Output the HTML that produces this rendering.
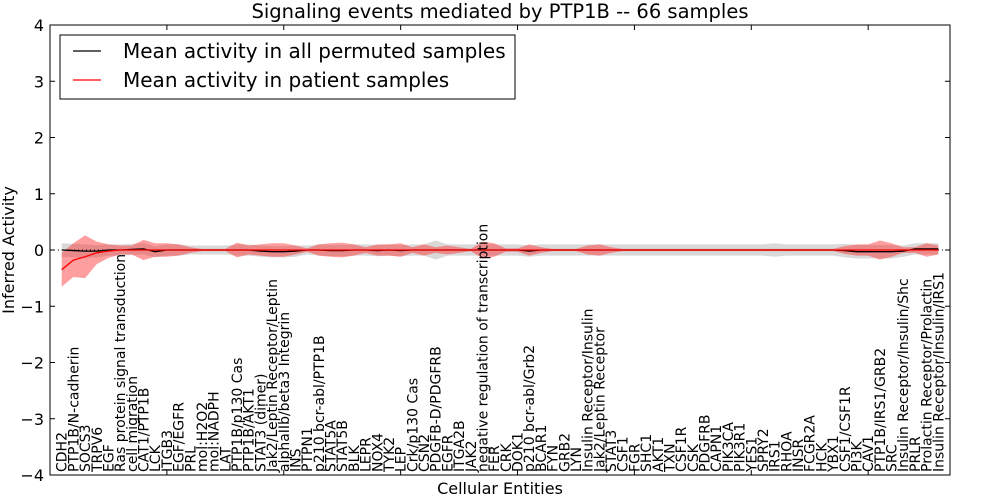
<!DOCTYPE html>
<html><head><meta charset="utf-8"><style>
body{margin:0;background:#fff;}
svg{display:block;font-family:"DejaVu Sans","Liberation Sans",sans-serif;}
</style></head><body>
<svg id="chart" width="1000" height="500"></svg>
<script>
const labels=["CDH2","PTP1B/N-cadherin","SOCS3","TRPV6","EGF","Ras protein signal transduction","cell migration","CAT1/PTP1B","LCK","ITGB3","EGF/EGFR","PRL","mol:H2O2","mol:NADPH","LAT","PTP1B/p130 Cas","PTP1B/AKT1","STAT3 (dimer)","Jak2/Leptin Receptor/Leptin","alphaIIb/beta3 Integrin","INS","PTPN1","p210 bcr-abl/PTP1B","STAT5A","STAT5B","BLK","LEPR","NOX4","TYK2","LEP","Crk/p130 Cas","CSN2","PDGFB-D/PDGFRB","EGFR","ITGA2B","JAK2","negative regulation of transcription","FER","CRK","DOK1","p210 bcr-abl/Grb2","BCAR1","FYN","GRB2","LYN","Insulin Receptor/Insulin","Jak2/Leptin Receptor","STAT3","CSF1","FGR","SHC1","AKT1","TXN","CSF1R","CSK","PDGFRB","CAPN1","PIK3CA","PIK3R1","YES1","SPRY2","IRS1","RHOA","INSR","FCGR2A","HCK","YBX1","CSF1/CSF1R","PI3K","CAV1","PTP1B/IRS1/GRB2","SRC","Insulin Receptor/Insulin/Shc","PRLR","Prolactin Receptor/Prolactin","Insulin Receptor/Insulin/IRS1"];
const patientMean=[-0.35,-0.18,-0.12,-0.05,-0.02,0,0,0,0,0,0,0,0,0,0,0,0,0,0,0,0,0,0,0,0,0,0,0,0,0,0,0,0,0,0,0,0,0,0,0,0,0,0,0,0,0,0,0,0,0,0,0,0,0,0,0,0,0,0,0,0,0,0,0,0,0,0,0,0,0,0,0,0,0,0,0];
const patientSpread=[0.3,0.3,0.38,0.2,0.12,0.08,0.08,0.18,0.12,0.12,0.1,0.05,0.02,0.02,0.02,0.13,0.08,0.1,0.12,0.12,0.08,0.03,0.1,0.12,0.13,0.1,0.05,0.1,0.1,0.12,0.05,0.1,0.05,0.08,0.05,0.02,0.15,0.12,0.03,0.03,0.1,0.05,0.02,0.02,0.02,0.08,0.1,0.05,0.02,0.02,0.02,0.02,0.02,0.02,0.02,0.02,0.02,0.02,0.02,0.02,0.02,0.02,0.02,0.02,0.02,0.02,0.02,0.07,0.1,0.1,0.17,0.12,0.05,0.05,0.12,0.08];
const permMean=[0,-0.01,-0.02,-0.02,0,0,0.01,0.02,-0.03,0,0,0,0,0,0,0,0,-0.02,-0.03,-0.03,-0.02,0,0,-0.01,-0.01,0,0,-0.01,0,-0.01,0,0,0,0,0,0,0,0,0,0,-0.02,0,0,0,0,0,0,0,0,0,0,0,0,0,0,0,0,0,0,0,0,0,0,0,0,0,0,-0.01,-0.03,-0.03,-0.03,-0.03,-0.02,0.02,0.02,0.02];
const permSpread=[0.12,0.12,0.12,0.11,0.1,0.1,0.1,0.1,0.1,0.1,0.1,0.08,0.08,0.08,0.08,0.1,0.1,0.1,0.1,0.1,0.1,0.08,0.1,0.1,0.1,0.1,0.1,0.1,0.1,0.1,0.1,0.1,0.17,0.1,0.1,0.1,0.1,0.1,0.1,0.1,0.1,0.1,0.1,0.1,0.1,0.1,0.1,0.1,0.1,0.1,0.1,0.1,0.1,0.1,0.1,0.1,0.1,0.1,0.1,0.1,0.1,0.12,0.1,0.1,0.1,0.1,0.1,0.12,0.12,0.12,0.12,0.12,0.1,0.1,0.1,0.1];
const yTicks=[-4,-3,-2,-1,0,1,2,3,4];
const xTicks=[0,10,20,30,40,50,60,70];

const L=50,R=950,T=25,B=475;
const xs=v=>L+(v/77)*(R-L);
const ys=v=>T+(4-v)/8*(B-T);
const NS="http://www.w3.org/2000/svg";
const svg=document.getElementById('chart');
function mk(tag,at,parent){const e=document.createElementNS(NS,tag);for(const k in at)e.setAttribute(k,at[k]);(parent||svg).appendChild(e);return e;}
function band(mean,spread,fill,name){
  let pts=mean.map((m,i)=>xs(i+1)+","+ys(m+spread[i]));
  for(let i=mean.length-1;i>=0;i--)pts.push(xs(i+1)+","+ys(mean[i]-spread[i]));
  const p=mk('polygon',{points:pts.join(' '),fill:fill});
  
  
}
function line(mean,col,name){
  const p=mk('polyline',{points:mean.map((m,i)=>xs(i+1)+","+ys(m)).join(' '),fill:'none',stroke:col,'stroke-width':1.3});
  
  
}
band(permMean,permSpread,'rgba(160,160,160,0.4)','permuted-band');
band(patientMean,patientSpread,'rgba(255,40,40,0.45)','patient-band');
const z=mk('line',{x1:L,x2:R,y1:ys(0),y2:ys(0),stroke:'#000','stroke-dasharray':'1,3','stroke-width':1});


line(permMean,'#000','permuted-mean-line');
line(patientMean,'#f00','patient-mean-line');
const fr=mk('rect',{x:L,y:T,width:R-L,height:B-T,fill:'none',stroke:'#000','stroke-width':1});


yTicks.forEach(v=>{
  mk('line',{x1:L,x2:L+5,y1:ys(v),y2:ys(v),stroke:'#000'});
  mk('line',{x1:R-5,x2:R,y1:ys(v),y2:ys(v),stroke:'#000'});
  const t=mk('text',{x:L-6,y:ys(v)+6,'text-anchor':'end','font-size':16});
  t.textContent=(v<0?'\u2212':'')+Math.abs(v);
  
  
});
xTicks.forEach(v=>{
  mk('line',{x1:xs(v),x2:xs(v),y1:T,y2:T+5,stroke:'#000'});
  mk('line',{x1:xs(v),x2:xs(v),y1:B-5,y2:B,stroke:'#000'});
});
labels.forEach((s,i)=>{
  const x=xs(i+1);
  const t=mk('text',{transform:`translate(${x+5},${B-3}) rotate(-90)`,'font-size':14});
  t.textContent=s;
  
  
});
</script>
<svg style="position:absolute;left:0;top:0" width="1000" height="500">
<text x="500" y="18" text-anchor="middle" font-size="19.5">Signaling events mediated by PTP1B -- 66 samples</text>
<text x="500" y="494" text-anchor="middle" font-size="16">Cellular Entities</text>
<text transform="translate(14,250) rotate(-90)" text-anchor="middle" font-size="16">Inferred Activity</text>
<g>
<rect x="60" y="35" width="455" height="64" fill="#fff" stroke="#000" stroke-width="1"/>
<g>
<line x1="73" x2="101" y1="51" y2="51" stroke="#000" stroke-width="1.3"/>
<text x="123" y="58" font-size="20">Mean activity in all permuted samples</text></g>
<g>
<line x1="73" x2="101" y1="80" y2="80" stroke="#f00" stroke-width="1.3"/>
<text x="123" y="87" font-size="20">Mean activity in patient samples</text></g>
</g>
</svg>
</body></html>
